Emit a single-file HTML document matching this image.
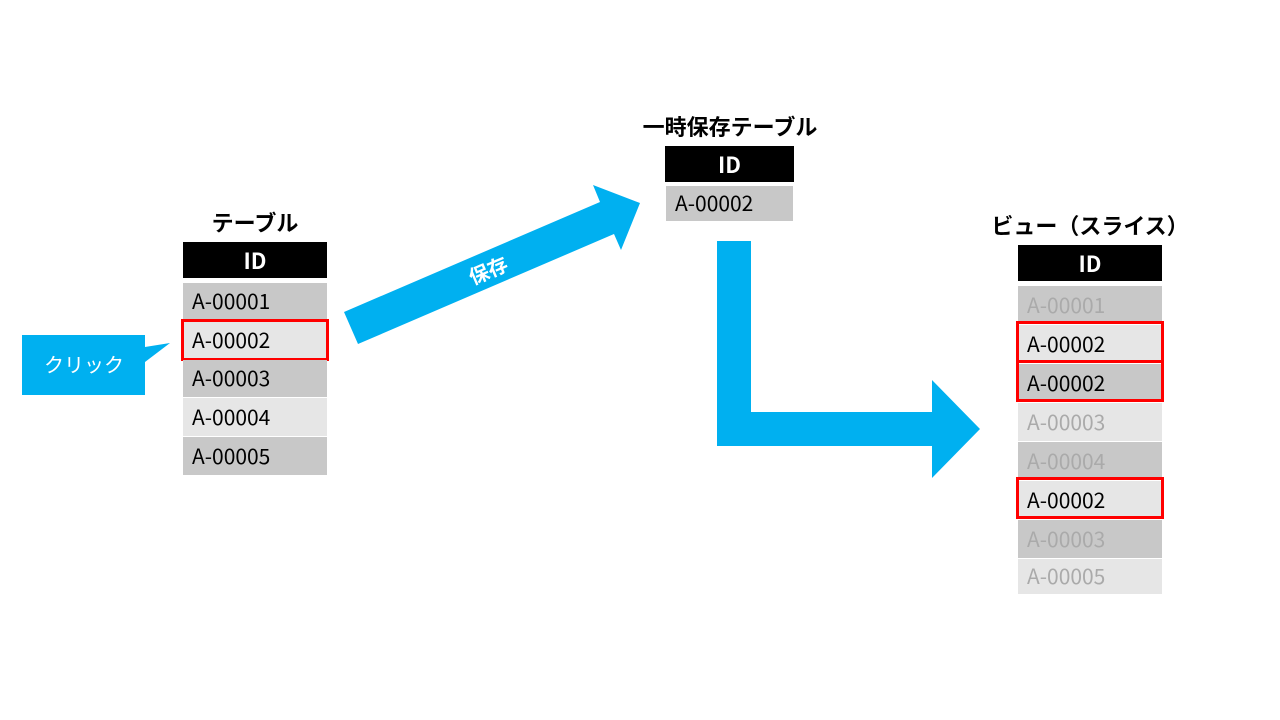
<!DOCTYPE html>
<html><head><meta charset="utf-8"><style>
body{margin:0;width:1280px;height:720px;background:#fff;position:relative;overflow:hidden;font-family:"Noto Sans CJK JP",sans-serif}
.a{position:absolute}
.t{font-weight:bold;font-size:22px;color:#000;text-align:center}
.h{background:#000;color:#fff;font-weight:bold;font-size:22px;text-align:center}
.r{font-size:21px;padding-left:9px;box-sizing:border-box;color:#000}
.d{background:#c8c8c8}.l{background:#e6e6e6}.g{color:#aaa}
.red{border:3px solid #f00;box-sizing:border-box}
</style></head><body>
<svg class="a" style="left:0;top:0" width="1280" height="720">
<polygon points="344,312 600,202 593,185 640,203 621,250 614,234 358,344" fill="#00b0f0"/>
<polygon points="717,241 751,241 751,412 932,412 932,380 980,429 932,478 932,446 717,446" fill="#00b0f0"/>
<polygon points="22,335 145,335 145,347 170,343 145,362 145,395 22,395" fill="#00b0f0"/>
<text x="488" y="278" fill="#fff" font-size="20" font-weight="bold" text-anchor="middle" transform="rotate(-23 488 270)" font-family="Noto Sans CJK JP,sans-serif">保存</text>
<text x="84" y="372" fill="#fff" font-size="20" text-anchor="middle" font-family="Noto Sans CJK JP,sans-serif">クリック</text>
</svg>
<div class="a t" style="left:183px;top:205px;width:144px;line-height:34px">テーブル</div>
<div class="a h" style="left:183px;top:242px;width:144px;height:36px;line-height:36px">ID</div>
<div class="a r d" style="left:183px;top:283px;width:144px;height:37px;line-height:37px">A-00001</div>
<div class="a r l" style="left:183px;top:321px;width:144px;height:38px;line-height:38px">A-00002</div>
<div class="a red" style="left:181px;top:319px;width:148px;height:42px"></div>
<div class="a r d" style="left:183px;top:360px;width:144px;height:37px;line-height:37px">A-00003</div>
<div class="a r l" style="left:183px;top:398px;width:144px;height:38px;line-height:38px">A-00004</div>
<div class="a r d" style="left:183px;top:437px;width:144px;height:38px;line-height:38px">A-00005</div>

<div class="a t" style="left:600px;top:109px;width:260px;line-height:34px">一時保存テーブル</div>
<div class="a h" style="left:665px;top:146px;width:129px;height:36px;line-height:36px">ID</div>
<div class="a r d" style="left:666px;top:186px;width:127px;height:35px;line-height:35px">A-00002</div>

<div class="a t" style="left:960px;top:208px;width:260px;line-height:34px">ビュー（スライス）</div>
<div class="a h" style="left:1018px;top:245px;width:144px;height:36px;line-height:36px">ID</div>
<div class="a r d g" style="left:1018px;top:286px;width:144px;height:38px;line-height:38px">A-00001</div>
<div class="a r l" style="left:1018px;top:325px;width:144px;height:38px;line-height:38px">A-00002</div>
<div class="a r d" style="left:1018px;top:364px;width:144px;height:38px;line-height:38px">A-00002</div>
<div class="a r l g" style="left:1018px;top:403px;width:144px;height:38px;line-height:38px">A-00003</div>
<div class="a r d g" style="left:1018px;top:442px;width:144px;height:38px;line-height:38px">A-00004</div>
<div class="a r l" style="left:1018px;top:481px;width:144px;height:38px;line-height:38px">A-00002</div>
<div class="a r d g" style="left:1018px;top:520px;width:144px;height:38px;line-height:38px">A-00003</div>
<div class="a r l g" style="left:1018px;top:559px;width:144px;height:35px;line-height:35px">A-00005</div>
<div class="a red" style="left:1016px;top:321px;width:148px;height:42px"></div>
<div class="a red" style="left:1016px;top:360px;width:148px;height:42px"></div>
<div class="a red" style="left:1016px;top:477px;width:148px;height:42px"></div>
</body></html>
